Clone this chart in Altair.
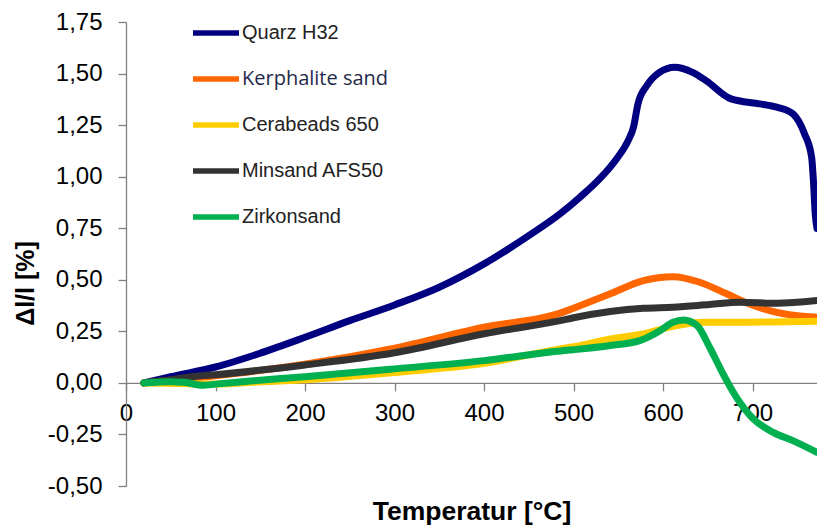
import altair as alt
import pandas as pd

# ---- data ----
names = ["Quarz H32", "Kerphalite sand", "Cerabeads 650", "Minsand AFS50", "Zirkonsand"]
colors = ["#000080", "#FF6600", "#FFCC00", "#333333", "#00B050"]

quarz_t = [20, 50, 100, 150, 200, 250, 300, 350, 400, 450, 485, 507, 529, 548, 561, 567, 572, 582,
           596, 613, 633, 648, 676, 708, 727, 745, 758, 766, 768, 770, 772]
quarz_v = [0.00, 0.03, 0.077, 0.144, 0.221, 0.302, 0.378, 0.464, 0.577, 0.714, 0.82, 0.90, 0.989,
           1.086, 1.175, 1.24, 1.353, 1.442, 1.506, 1.531, 1.506, 1.466, 1.377, 1.353, 1.337, 1.305,
           1.208, 1.094, 0.981, 0.82, 0.749]

kerph_t = [20, 100, 200, 300, 400, 485, 500, 541, 578, 611, 641, 671, 701, 727, 760, 772]
kerph_v = [0.00, 0.035, 0.09, 0.168, 0.27, 0.338, 0.362, 0.432, 0.496, 0.515, 0.488, 0.432, 0.375,
           0.342, 0.322, 0.318]

cera_t = [20, 60, 100, 150, 200, 300, 400, 485, 500, 541, 578, 615, 645, 682, 772]
cera_v = [0.00, -0.003, -0.005, 0.005, 0.015, 0.05, 0.095, 0.165, 0.175, 0.213, 0.238, 0.278,
          0.294, 0.294, 0.299]

mins_t = [20, 50, 75, 100, 200, 300, 400, 485, 500, 541, 578, 611, 652, 686, 727, 772]
mins_v = [0.00, 0.015, 0.031, 0.04, 0.087, 0.146, 0.238, 0.302, 0.316, 0.346, 0.362, 0.367, 0.380,
          0.391, 0.386, 0.399]

zirk_t = [20, 48, 65, 86, 100, 130, 200, 300, 400, 485, 500, 541, 574, 597, 611, 623, 638, 652,
          667, 682, 701, 723, 745, 772]
zirk_v = [0.00, 0.006, 0.003, -0.012, -0.006, 0.006, 0.03, 0.068, 0.108, 0.155, 0.161, 0.181, 0.205,
          0.254, 0.294, 0.305, 0.278, 0.173, 0.044, -0.070, -0.175, -0.240, -0.280, -0.337]

x_ticks = [0, 100, 200, 300, 400, 500, 600, 700]
y_ticks = [-0.5, -0.25, 0.0, 0.25, 0.5, 0.75, 1.0, 1.25, 1.5, 1.75]

series = [(names[0], quarz_t, quarz_v), (names[1], kerph_t, kerph_v), (names[2], cera_t, cera_v),
          (names[3], mins_t, mins_v), (names[4], zirk_t, zirk_v)]
rows = []
for name, ts, vs in series:
    for t, v in zip(ts, vs):
        rows.append({"sample": name, "t": t, "v": v})
df = pd.DataFrame(rows)

# ---- layout ----
W, H = 691, 464
x_dom = [0, 772]
y_dom = [-0.5, 1.75]
x_axis_offset = -H * (0 - y_dom[0]) / (y_dom[1] - y_dom[0])
AX = "#808080"
FONT = "Liberation Sans"

x_axis = alt.Axis(values=x_ticks, format="d", offset=x_axis_offset, tickSize=8, labelPadding=11,
                  labelFont=FONT, labelFontSize=24, labelColor="black", labelFlush=False,
                  labelOverlap=False, domainColor=AX, tickColor=AX, domainWidth=1.3, tickWidth=1.3,
                  grid=False, titleFont=FONT, titleFontSize=26.5, titleFontWeight="bold",
                  titleColor="black", titleY=137, titleBaseline="alphabetic")

y_axis = alt.Axis(values=y_ticks,
                  labelExpr="(datum.value < 0 ? '-' : '') + replace(format(abs(datum.value), '.2f'), '.', ',')",
                  tickSize=8, labelPadding=16, labelFont=FONT, labelFontSize=24, labelColor="black",
                  labelOverlap=False, domainColor=AX, tickColor=AX, domainWidth=1.3, tickWidth=1.3,
                  grid=False, titleFont=FONT, titleFontSize=25, titleFontWeight="bold",
                  titleColor="black", titleAngle=270, titleX=-101, titleY=261,
                  titleAlign="center", titleBaseline="middle")

legend = alt.Legend(orient="none", legendX=64, legendY=-15, title=None, direction="vertical",
                    symbolType="stroke", symbolSize=2116, symbolStrokeWidth=5.5,
                    labelFont=alt.ExprRef("datum.label == 'Kerphalite sand' ? 'Open Sans' : 'Liberation Sans'"),
                    labelColor=alt.ExprRef("datum.label == 'Kerphalite sand' ? '#1f2a4a' : '#222222'"),
                    labelFontSize=20, labelOffset=0, rowPadding=9, padding=0, labelLimit=400)

chart = alt.Chart(df).mark_line(strokeWidth=7, interpolate="monotone", strokeCap="round",
                                strokeJoin="round", clip=True).encode(
    x=alt.X("t:Q", scale=alt.Scale(domain=x_dom, nice=False, zero=False), axis=x_axis,
            title="Temperatur [°C]"),
    y=alt.Y("v:Q", scale=alt.Scale(domain=y_dom, nice=False, zero=False), axis=y_axis,
            title="Δl/l [%]"),
    color=alt.Color("sample:N", scale=alt.Scale(domain=names, range=colors), legend=legend,
                    sort=names),
).properties(
    width=W, height=H,
    autosize=alt.AutoSizeParams(type="none"),
    padding={"left": 126, "top": 22, "right": 0, "bottom": 41},
    background="white",
).configure_view(stroke=None)

chart.save("out.html", embed_options={"renderer": "svg", "actions": False})
